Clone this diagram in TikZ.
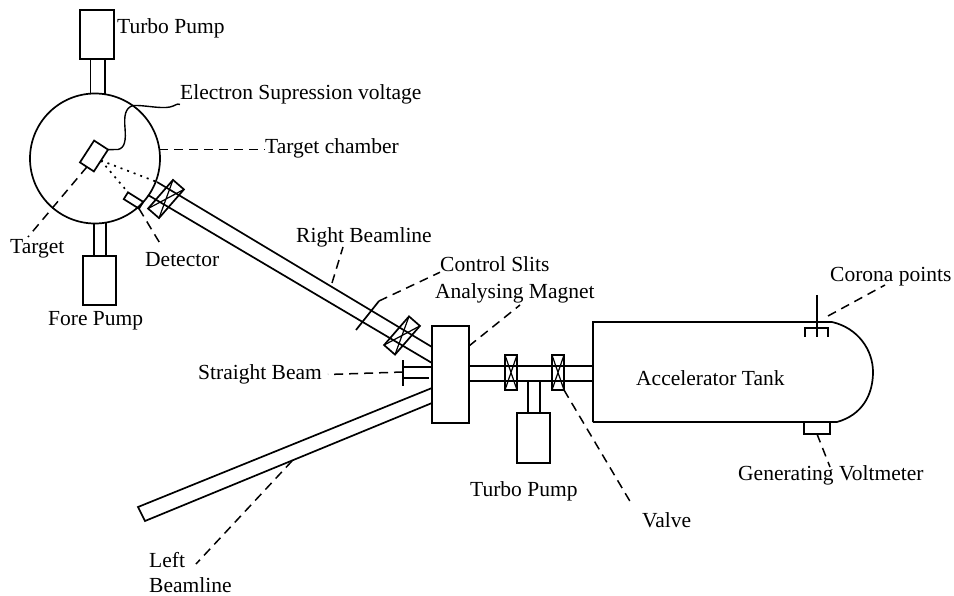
\documentclass[tikz,border=0pt]{standalone}
\usepackage{fontspec}
\setmainfont{Liberation Serif}
\usetikzlibrary{positioning}
\tikzset{
  partbox/.style={
    draw=black,
    line width=1.7pt,
    inner sep=0pt,
    outer sep=0pt
  },
  valvebox/.style={
    partbox,
    minimum width=12pt,
    minimum height=35pt
  },
  tiltvalve/.style={
    partbox,
    minimum width=14.5pt,
    minimum height=38pt,
    rotate=-41
  },
  partlabel/.style={
    anchor=west,
    inner sep=0pt,
    yshift=-1.5pt,
    font=\fontsize{21.5}{25}\selectfont
  },
  pipeline/.style={
    draw=black,
    line width=1.7pt
  },
  leaderline/.style={
    draw=black,
    line width=1.5pt,
    dash pattern=on 9pt off 6pt
  },
  beamdots/.style={
    draw=black,
    line width=1.7pt,
    dash pattern=on 2pt off 5pt
  }
}
\begin{document}
\begin{tikzpicture}[x=1pt,y=-1pt]
  \useasboundingbox (0,0) rectangle (954,596);
  % target end
  \node[partbox,circle,minimum size=130pt] (chamber) at (95,158.5) {};
  \node[partbox,minimum width=34pt,minimum height=49pt] (toppump) at (97,34.5) {};
  \node[partbox,minimum width=33pt,minimum height=49pt] (forepump) at (99.5,280.5) {};
  \node[partbox,minimum width=16.6pt,minimum height=26pt,rotate=-33] (target) at (94,156) {};
  \node[partbox,minimum width=18pt,minimum height=8pt,rotate=-32] (detector) at (133.5,200.5) {};
  \node[tiltvalve] (chambervalve) at (166,199) {};
  % middle
  \node[tiltvalve] (slitvalve) at (402,335.5) {};
  \node[partbox,minimum width=37pt,minimum height=97pt] (magnet) at (450.5,374.5) {};
  \node[valvebox] (valveleft) at (511,372.5) {};
  \node[valvebox] (valveright) at (558,372.5) {};
  \node[partbox,minimum width=33pt,minimum height=50pt] (sidepump) at (533.5,438) {};
  \node[partbox,minimum width=26pt,minimum height=12pt] (voltmeter) at (817,428) {};
  % labels
  \node[partlabel] (toplabel) at (117,27) {Turbo Pump};
  \node[partlabel] (wirelabel) at (180,93) {Electron Supression voltage};
  \node[partlabel] (chamberlabel) at (265,147) {Target chamber};
  \node[partlabel] (targetlabel) at (10,247) {Target};
  \node[partlabel] (detectorlabel) at (145,258) {Detector};
  \node[partlabel] (forelabel) at (48,319) {Fore Pump};
  \node[partlabel] (rightlabel) at (296,236) {Right Beamline};
  \node[partlabel] (slitlabel) at (440,263) {Control Slits};
  \node[partlabel] (magnetlabel) at (435,292) {Analysing Magnet};
  \node[partlabel] (stoplabel) at (198,373) {Straight Beam};
  \node[partlabel] (tanklabel) at (636,377) {Accelerator Tank};
  \node[partlabel] (sidelabel) at (470,490) {Turbo Pump};
  \node[partlabel] (valvelabel) at (642,519) {Valve};
  \node[partlabel] (coronalabel) at (830,275) {Corona points};
  \node[partlabel] (meterlabel) at (738,474) {Generating Voltmeter};
  \node[partlabel,align=left] (leftlabel) at (149,571) {Left\\Beamline};
  % free ends
  \coordinate (rightup) at (157,182);
  \coordinate (rightlow) at (148,195);
  \coordinate (magrightup) at (432,347);
  \coordinate (magrightlow) at (432,363);
  \coordinate (leftup) at (138,507);
  \coordinate (leftlow) at (145,521);
  \coordinate (magleftup) at (432,388);
  \coordinate (magleftlow) at (432,403);
  \coordinate (slittop) at (379,301);
  \coordinate (slitlow) at (356,330);
  \coordinate (stoptop) at (403,360);
  \coordinate (stopmid) at (403,372);
  \coordinate (stoplow) at (403,386);
  \coordinate (tanknw) at (593,322);
  \coordinate (tanksw) at (593,422);
  \coordinate (coronatop) at (817,295);
  \coordinate (coronalow) at (817,337);
  % vessels and pipes
  \draw[pipeline] (toppump.south -| chamber.94) -- (chamber.94);
  \draw[pipeline] (toppump.south -| chamber.81) -- (chamber.81);
  \draw[pipeline] (forepump.north -| chamber.-91) -- (chamber.-91);
  \draw[pipeline] (forepump.north -| chamber.-80) -- (chamber.-80);
  \draw[pipeline] (rightup) -- (magrightup);
  \draw[pipeline] (rightlow) -- (magrightlow);
  \draw[pipeline] (magleftup) -- (leftup) -- (leftlow) -- (magleftlow);
  \draw[pipeline] (magnet.east |- 0,366) -- (tanknw |- 0,366);
  \draw[pipeline] (magnet.east |- 0,381) -- (tanknw |- 0,381);
  \draw[pipeline] (sidepump.north -| 528,0) -- (528,381);
  \draw[pipeline] (sidepump.north -| 540,0) -- (540,381);
  \draw[pipeline] (tanksw) -- (tanknw) -- (832,322) .. controls (858,328) and (873,350) .. (873,372) .. controls (873,395) and (862,415) .. (837,422) -- (tanksw);
  \foreach \valve in {chambervalve,slitvalve,valveleft,valveright}{\draw[pipeline,line width=1.2pt] (\valve.north west) -- (\valve.south east) (\valve.north east) -- (\valve.south west);}
  \draw[pipeline] (slittop) -- (slitlow);
  \draw[pipeline] (stoptop) -- (stoplow);
  \draw[pipeline] (stoptop |- 0,367) -- (magnet.west |- 0,367);
  \draw[pipeline] (stoptop |- 0,378) -- (429,378);
  \draw[pipeline] (coronatop) -- (coronalow);
  \draw[pipeline] (805,337) -- (805,328) -- (828,328) -- (828,337);
  % wire and beam spread
  \draw[pipeline,line width=1.4pt] (target.north east) -- (118,149.5) .. controls (125,148) and (126,140) .. (125,128) .. controls (124,116) and (125,108) .. (133,105.5) .. controls (145,105) and (160,109) .. (170,107) .. controls (175,106) and (177,103) .. (wirelabel.south west);
  \draw[beamdots] (target.east) -- (rightup);
  \draw[beamdots] (target.east) -- (detector.north west);
  % leaders
  \draw[leaderline] (chamber.8) -- (chamberlabel.west |- chamber.8);
  \draw[leaderline] (target.south) -- (28,237);
  \draw[leaderline] (detector.south east) -- (161,245);
  \draw[leaderline] (332,283) -- (343,247);
  \draw[leaderline] (slittop) -- (slitlabel.south west);
  \draw[leaderline] (469,346) -- (520,305);
  \draw[leaderline] (stopmid) -- ([xshift=6pt]stoplabel.east);
  \draw[leaderline] (valveright.south east) -- (631,503);
  \draw[leaderline] (828,316) -- (885,285);
  \draw[leaderline] (voltmeter.south) -- (830,467);
  \draw[leaderline] (292,461) -- (196,564);
\end{tikzpicture}
\end{document}
